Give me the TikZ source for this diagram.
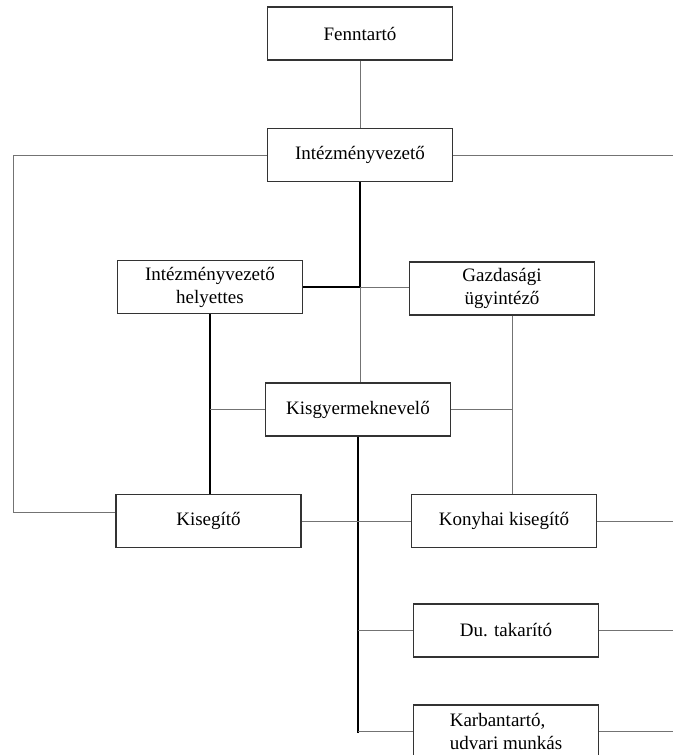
\documentclass[tikz,border=0pt]{standalone}
\usepackage{fontspec}
\setmainfont{Liberation Serif}
\usetikzlibrary{positioning}

\begin{document}
\begin{tikzpicture}[
    x=1pt, y=-1pt,
    unit/.style={rectangle, draw=black!80, line width=1.2pt, minimum width=185pt, minimum height=53pt, inner sep=0pt, align=center, font=\fontsize{19}{23}\selectfont},
    strong/.style={line width=1.3pt, black},
    weak/.style={line width=0.8pt, black!55},
]
\useasboundingbox (0,0) rectangle (673,755);
% boxes
\node[unit] (fenn)   at (360,33.5)  {Fenntartó};
\node[unit] (ivez)   at (360,155)   {Intézményvezető};
\node[unit] (hely)   at (210,287)   {Intézményvezető\\helyettes};
\node[unit] (gazd)   at (502,288.5) {Gazdasági\\ügyintéző};
\node[unit] (kisgy)  at (358,409.5) {Kisgyermeknevelő};
\node[unit] (kiseg)  at (208.5,521) {Kisegítő};
\node[unit] (konyha) at (504,521)   {Konyhai kisegítő};
\node[unit] (du)     at (506,630.5) {Du. takarító};
\node[unit, align=left] (karb) at (506,731.5) {Karbantartó,\\udvari munkás};
% free ends
\coordinate (lc)  at (13,512);
\coordinate (rt)  at (673,155);
\coordinate (bot) at (358,733);
\coordinate (j1)  at (hely.east -| ivez.south);
\coordinate (gs)  at ([xshift=10pt]gazd.south);
% connectors
\draw[weak] (fenn) -- (ivez);
\draw[weak] (ivez.west) -| (lc) -- (lc -| kiseg.west);
\draw[weak] (ivez.east) -- (rt);
\draw[strong] (ivez.south) -- (j1);
\draw[weak] (j1) -- (j1 |- kisgy.north);
\draw[strong] (hely.east) -- (j1);
\draw[weak] (j1) -- (j1 -| gazd.west);
\draw[strong] (hely.south) -- (hely.south |- kiseg.north);
\draw[weak] (hely.south |- kisgy.west) -- (kisgy.west);
\draw[weak] (gs) -- (gs |- konyha.north);
\draw[weak] (kisgy.east) -- (kisgy.east -| gs);
\draw[strong] (kisgy.south) -- (bot);
\draw[weak] (kiseg.east) -- (konyha.west);
\draw[weak] (konyha.east) -- (konyha.east -| rt);
\draw[weak] (du.west) -- (du.west -| bot);
\draw[weak] (du.east) -- (du.east -| rt);
\draw[weak] (karb.west) -- (karb.west -| bot);
\draw[weak] (karb.east) -- (karb.east -| rt);
\end{tikzpicture}
\end{document}
